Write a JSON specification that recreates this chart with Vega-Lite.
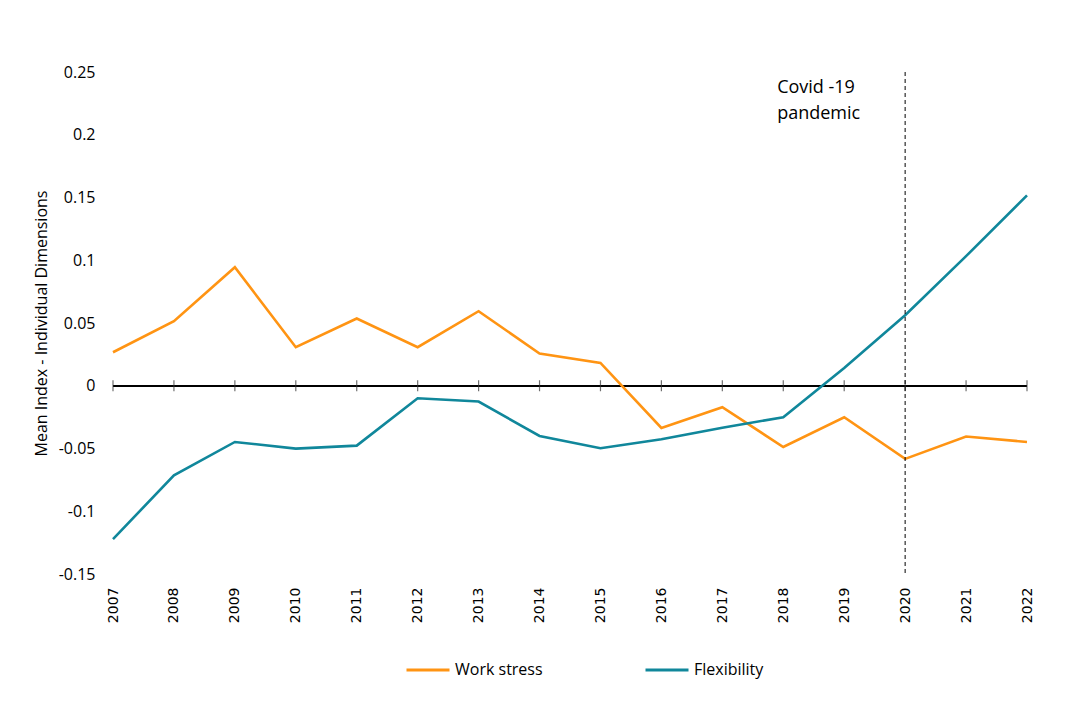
{
  "$schema": "https://vega.github.io/schema/vega-lite/v6.json",
  "autosize": "none",
  "width": 914,
  "height": 502,
  "padding": {"left": 113, "top": 72, "right": 42, "bottom": 142},
  "background": "white",
  "config": {
    "view": {"stroke": null},
    "font": "Open Sans",
    "axis": {"labelFont": "Open Sans", "titleFont": "Open Sans", "labelColor": "#000", "titleColor": "#000"}
  },
  "data": {
    "values": [
      {"year": "2007", "series": "Work stress", "value": 0.0267},
      {"year": "2008", "series": "Work stress", "value": 0.0514},
      {"year": "2009", "series": "Work stress", "value": 0.0945},
      {"year": "2010", "series": "Work stress", "value": 0.0307},
      {"year": "2011", "series": "Work stress", "value": 0.0536},
      {"year": "2012", "series": "Work stress", "value": 0.0307},
      {"year": "2013", "series": "Work stress", "value": 0.0594},
      {"year": "2014", "series": "Work stress", "value": 0.0257},
      {"year": "2015", "series": "Work stress", "value": 0.0182},
      {"year": "2016", "series": "Work stress", "value": -0.0336},
      {"year": "2017", "series": "Work stress", "value": -0.0171},
      {"year": "2018", "series": "Work stress", "value": -0.0488},
      {"year": "2019", "series": "Work stress", "value": -0.0251},
      {"year": "2020", "series": "Work stress", "value": -0.0583},
      {"year": "2021", "series": "Work stress", "value": -0.0405},
      {"year": "2022", "series": "Work stress", "value": -0.0448},
      {"year": "2007", "series": "Flexibility", "value": -0.1222},
      {"year": "2008", "series": "Flexibility", "value": -0.0714},
      {"year": "2009", "series": "Flexibility", "value": -0.0448},
      {"year": "2010", "series": "Flexibility", "value": -0.0501},
      {"year": "2011", "series": "Flexibility", "value": -0.0477},
      {"year": "2012", "series": "Flexibility", "value": -0.0100},
      {"year": "2013", "series": "Flexibility", "value": -0.0126},
      {"year": "2014", "series": "Flexibility", "value": -0.0400},
      {"year": "2015", "series": "Flexibility", "value": -0.0498},
      {"year": "2016", "series": "Flexibility", "value": -0.0427},
      {"year": "2017", "series": "Flexibility", "value": -0.0334},
      {"year": "2018", "series": "Flexibility", "value": -0.0251},
      {"year": "2019", "series": "Flexibility", "value": 0.0142},
      {"year": "2020", "series": "Flexibility", "value": 0.0562},
      {"year": "2021", "series": "Flexibility", "value": 0.1033},
      {"year": "2022", "series": "Flexibility", "value": 0.1517}
    ]
  },
  "encoding": {
    "x": {
      "field": "year",
      "type": "ordinal",
      "scale": {"type": "point", "padding": 0},
      "axis": {
        "title": null,
        "domain": false,
        "ticks": false,
        "labelAngle": -90,
        "labelFont": "DejaVu Sans",
        "labelFontSize": 14,
        "labelPadding": 13,
        "labelAlign": "right",
        "labelBaseline": "middle"
      }
    },
    "y": {
      "type": "quantitative",
      "scale": {"domain": [-0.15, 0.25], "nice": false, "zero": false},
      "axis": {
        "title": "Mean Index - Individual Dimensions",
        "titleFontSize": 16,
        "titleFontWeight": "normal",
        "titlePadding": 9,
        "values": [-0.15, -0.1, -0.05, 0, 0.05, 0.1, 0.15, 0.2, 0.25],
        "labelExpr": "datum.value == 0 ? '0' : replace(format(datum.value, '.2~f'), '\u2212', '-')",
        "labelFontSize": 16,
        "labelPadding": 18,
        "domain": false,
        "ticks": false,
        "gridColor": "#d9d9d9",
        "gridWidth": 1.3
      }
    }
  },
  "layer": [
    {
      "mark": {"type": "rule", "color": "#000", "strokeWidth": 1.2},
      "encoding": {"y": {"datum": 0}, "x": null}
    },
    {
      "transform": [{"filter": "datum.series == 'Work stress'"}],
      "mark": {"type": "tick", "orient": "vertical", "size": 11, "thickness": 1.2, "color": "#333"},
      "encoding": {"y": {"datum": 0}}
    },
    {
      "mark": {"type": "line", "strokeWidth": 2.6},
      "encoding": {
        "y": {"field": "value", "type": "quantitative"},
        "color": {
          "field": "series",
          "type": "nominal",
          "scale": {"domain": ["Work stress", "Flexibility"], "range": ["#FF9413", "#10879B"]},
          "legend": {
            "title": null,
            "orient": "none",
            "direction": "horizontal",
            "legendX": 292,
            "legendY": 575,
            "symbolType": "stroke",
            "symbolSize": 1849,
            "symbolStrokeWidth": 3,
            "labelFontSize": 16,
            "labelFont": "Open Sans",
            "labelColor": "#000",
            "labelOffset": 4,
            "columnPadding": 96
          }
        }
      }
    },
    {
      "data": {"values": [{"year": "2020", "top": 0.25, "bottom": -0.15}]},
      "mark": {"type": "rule", "color": "#000", "strokeWidth": 1, "strokeDash": [4, 3]},
      "encoding": {
        "y": {"field": "top", "type": "quantitative"},
        "y2": {"field": "bottom"}
      }
    },
    {
      "data": {"values": [{"year": "2020", "y": 0.25, "label": ["Covid -19", "pandemic"]}]},
      "mark": {"type": "text", "align": "left", "baseline": "alphabetic", "dx": -128, "dy": 21, "fontSize": 18, "lineHeight": 26, "color": "#000", "font": "Open Sans"},
      "encoding": {
        "y": {"field": "y", "type": "quantitative"},
        "text": {"field": "label"}
      }
    }
  ]
}
